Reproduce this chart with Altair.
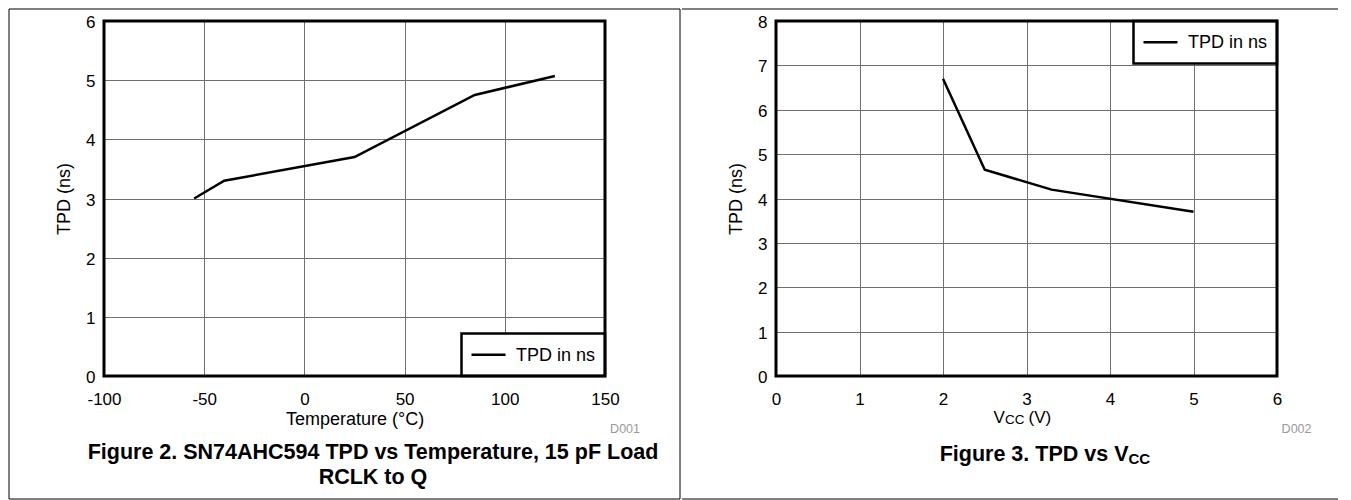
import altair as alt
import pandas as pd

# ---------------- data ----------------
temp_c = [-55, -40, 25, 85, 125]
tpd_vs_temp_ns = [3.0, 3.3, 3.7, 4.75, 5.07]

vcc_v = [2.0, 2.5, 3.3, 5.0]
tpd_vs_vcc_ns = [6.7, 4.65, 4.2, 3.7]

temp_ticks = [-100, -50, 0, 50, 100, 150]
tpd_ticks_temp = [0, 1, 2, 3, 4, 5, 6]
vcc_ticks = [0, 1, 2, 3, 4, 5, 6]
tpd_ticks_vcc = [0, 1, 2, 3, 4, 5, 6, 7, 8]

series_label = "TPD in ns"
y_title = "TPD (ns)"
temp_title = "Temperature (°C)"
vcc_title_parts = ["V", "CC", "(V)"]
caption_left = ["Figure 2. SN74AHC594 TPD vs Temperature, 15 pF Load", "RCLK to Q"]
caption_right_parts = ["Figure 3. TPD vs V", "CC"]
doc_ids = ["D001", "D002"]

FONT = "Liberation Sans"
W, H = 501, 355
TOP = -12
BOTTOM = 478


def deco():
    return alt.Chart(pd.DataFrame({"_": [0]}))


def text(x, y, s, size, weight="normal", align="left", color="black", baseline="alphabetic"):
    return deco().mark_text(
        font=FONT, fontSize=size, fontWeight=weight, align=align,
        baseline=baseline, color=color
    ).encode(x=alt.value(x), y=alt.value(y), text=alt.value(s))


def hrule(x1, x2, y, width=1.0):
    return deco().mark_rule(color="black", strokeWidth=width).encode(
        x=alt.value(x1), x2=alt.value(x2), y=alt.value(y))


def box(x1, x2, y1, y2, width=1.0):
    return deco().mark_rect(filled=False, stroke="black", strokeWidth=width).encode(
        x=alt.value(x1), x2=alt.value(x2), y=alt.value(y1), y2=alt.value(y2))


def legend(x0, y0, h=42.5):
    bg = deco().mark_rect(fill="white", stroke="black", strokeWidth=2.5).encode(
        x=alt.value(x0), x2=alt.value(W), y=alt.value(y0), y2=alt.value(y0 + h))
    cy = y0 + h / 2
    line = hrule(x0 + 10, x0 + 44, cy, 2.5)
    lab = text(x0 + 54.5, cy + 1, series_label, 18, baseline="middle")
    return [bg, line, lab]


MINUS_FIX = "replace(datum.label, '\u2212', '-')"


def data_line(xs, ys, xdom, ydom, xticks, yticks, xtitle):
    df = pd.DataFrame({"x": xs, "y": ys})
    if xtitle is not None:
        xaxis = alt.Axis(values=xticks, title=xtitle, titleX=W / 2, titleY=48,
                         titleBaseline="alphabetic", titleAlign="center",
                         labelExpr=MINUS_FIX)
    else:
        xaxis = alt.Axis(values=xticks, title=None, labelExpr=MINUS_FIX)
    yaxis = alt.Axis(values=yticks, title=y_title, titleAngle=270, titleX=-40,
                     titleY=H / 2, titleBaseline="middle", titleAlign="center")
    return alt.Chart(df).mark_line(color="black", strokeWidth=2.5).encode(
        x=alt.X("x:Q", scale=alt.Scale(domain=xdom, nice=False, zero=False), axis=xaxis),
        y=alt.Y("y:Q", scale=alt.Scale(domain=ydom, nice=False, zero=False), axis=yaxis),
    )


# ---------------- left panel ----------------
left_layers = [
    data_line(temp_c, tpd_vs_temp_ns, [-100, 150], [0, 6], temp_ticks, tpd_ticks_temp, temp_title),
    *legend(357.5, 312.5),
    box(0, W, 0, H, 3),
    text(536, 412, doc_ids[0], 12.5, align="right", color="#999999"),
    text(269, 438, caption_left[0], 21.5, weight="bold", align="center"),
    text(269, 463, caption_left[1], 21.5, weight="bold", align="center"),
    box(-95, 576, TOP, BOTTOM, 1),
]
left = alt.layer(*left_layers).properties(width=W, height=H)

# ---------------- right panel ----------------
right_layers = [
    data_line(vcc_v, tpd_vs_vcc_ns, [0, 6], [0, 8], vcc_ticks, tpd_ticks_vcc, None),
    *legend(357.5, 0),
    box(0, W, 0, H, 3),
    text(217.5, 402, vcc_title_parts[0], 17),
    text(229, 403, vcc_title_parts[1], 13.5),
    text(252.5, 402, vcc_title_parts[2], 17),
    text(535.5, 412, doc_ids[1], 12.5, align="right", color="#999999"),
    text(163.7, 440, caption_right_parts[0], 21.5, weight="bold"),
    text(352.5, 443, caption_right_parts[1], 15, weight="bold"),
    hrule(-94, 562, TOP),
    hrule(-94, 562, BOTTOM),
]
right = alt.layer(*right_layers).properties(width=W, height=H)

chart = alt.hconcat(left, right, spacing=0).properties(
    padding=0, background="white"
).configure_view(strokeWidth=0).configure_axis(
    labelFont=FONT, labelFontSize=17, labelColor="black",
    titleFont=FONT, titleFontSize=18, titleColor="black", titleFontWeight="normal",
    grid=True, gridColor="#707070", gridWidth=1,
    ticks=False, tickSize=0, domain=False, labelFlush=False, labelOverlap=False,
).configure_axisX(labelPadding=15.2).configure_axisY(labelPadding=9, labelOffset=1.5)

chart.save("out.html", embed_options={"renderer": "svg", "actions": False})
